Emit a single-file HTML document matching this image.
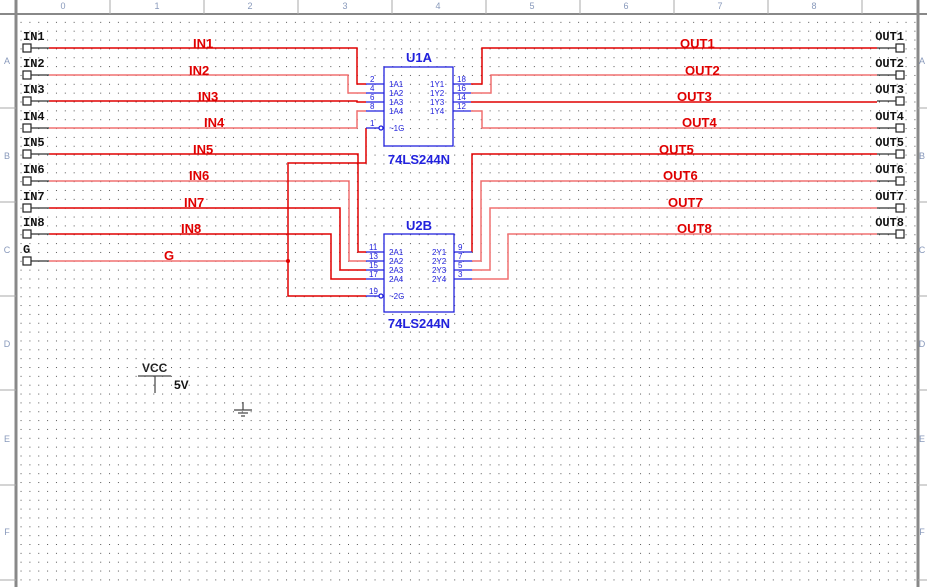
<!DOCTYPE html>
<html><head><meta charset="utf-8"><style>
html,body{margin:0;padding:0;background:#fff;}
svg{display:block;}
.nl{font-family:"Liberation Sans",sans-serif;font-weight:bold;font-size:13px;fill:#e00000;}
.pl{font-family:"Liberation Mono",monospace;font-size:12px;fill:#111;font-weight:bold;}
.pn{font-family:"Liberation Sans",sans-serif;font-size:8px;fill:#2222dd;}
.ref{font-family:"Liberation Sans",sans-serif;font-weight:bold;font-size:13px;fill:#2222dd;}
.rl{font-family:"Liberation Sans",sans-serif;font-size:9px;fill:#8899bb;}
</style></head><body>
<svg width="927" height="587" viewBox="0 0 927 587" xmlns="http://www.w3.org/2000/svg">
<defs>
<pattern id="dots" x="2.85" y="4.15" width="8.85" height="8.85" patternUnits="userSpaceOnUse">
<rect x="0" y="0" width="1" height="1" fill="#555"/>
</pattern>
</defs>
<rect width="927" height="587" fill="#fff"/>
<rect x="18" y="16" width="898" height="571" fill="url(#dots)"/>
<line x1="0" y1="14" x2="927" y2="14" stroke="#888" stroke-width="2"/>
<line x1="16" y1="0" x2="16" y2="587" stroke="#888" stroke-width="3"/>
<line x1="918" y1="0" x2="918" y2="587" stroke="#888" stroke-width="3"/>
<g stroke="#aaa" stroke-width="1">
<line x1="110" y1="0" x2="110" y2="14"/><line x1="204" y1="0" x2="204" y2="14"/><line x1="298" y1="0" x2="298" y2="14"/><line x1="392" y1="0" x2="392" y2="14"/><line x1="486" y1="0" x2="486" y2="14"/><line x1="580" y1="0" x2="580" y2="14"/><line x1="674" y1="0" x2="674" y2="14"/><line x1="768" y1="0" x2="768" y2="14"/><line x1="862" y1="0" x2="862" y2="14"/>
<line x1="0" y1="108" x2="16" y2="108"/><line x1="0" y1="202" x2="16" y2="202"/><line x1="0" y1="296" x2="16" y2="296"/><line x1="0" y1="390" x2="16" y2="390"/><line x1="0" y1="485" x2="16" y2="485"/><line x1="0" y1="580" x2="16" y2="580"/>
<line x1="918" y1="108" x2="927" y2="108"/><line x1="918" y1="202" x2="927" y2="202"/><line x1="918" y1="296" x2="927" y2="296"/><line x1="918" y1="390" x2="927" y2="390"/><line x1="918" y1="485" x2="927" y2="485"/><line x1="918" y1="580" x2="927" y2="580"/>
</g>
<g class="rl" text-anchor="middle">
<text x="63" y="9">0</text><text x="157" y="9">1</text><text x="250" y="9">2</text><text x="345" y="9">3</text><text x="438" y="9">4</text><text x="532" y="9">5</text><text x="626" y="9">6</text><text x="720" y="9">7</text><text x="814" y="9">8</text>
<text x="7" y="64">A</text><text x="7" y="159">B</text><text x="7" y="253">C</text><text x="7" y="347">D</text><text x="7" y="442">E</text><text x="7" y="535">F</text>
<text x="922" y="64">A</text><text x="922" y="159">B</text><text x="922" y="253">C</text><text x="922" y="347">D</text><text x="922" y="442">E</text><text x="922" y="535">F</text>
</g>

<g stroke="#222" stroke-width="1.2" fill="#fff">
<rect x="23" y="44" width="8" height="8"/><rect x="23" y="71" width="8" height="8"/><rect x="23" y="97" width="8" height="8"/><rect x="23" y="124" width="8" height="8"/><rect x="23" y="150" width="8" height="8"/><rect x="23" y="177" width="8" height="8"/><rect x="23" y="204" width="8" height="8"/><rect x="23" y="230" width="8" height="8"/><rect x="23" y="257" width="8" height="8"/>
<rect x="896" y="44" width="8" height="8"/><rect x="896" y="71" width="8" height="8"/><rect x="896" y="97" width="8" height="8"/><rect x="896" y="124" width="8" height="8"/><rect x="896" y="150" width="8" height="8"/><rect x="896" y="177" width="8" height="8"/><rect x="896" y="204" width="8" height="8"/><rect x="896" y="230" width="8" height="8"/>
</g>
<g stroke="#333" stroke-width="1.2">
<line x1="31" y1="48" x2="49" y2="48"/><line x1="31" y1="75" x2="49" y2="75"/><line x1="31" y1="101" x2="49" y2="101"/><line x1="31" y1="128" x2="49" y2="128"/><line x1="31" y1="154" x2="49" y2="154"/><line x1="31" y1="181" x2="49" y2="181"/><line x1="31" y1="208" x2="49" y2="208"/><line x1="31" y1="234" x2="49" y2="234"/><line x1="31" y1="261" x2="49" y2="261"/>
<line x1="877" y1="48" x2="896" y2="48"/><line x1="877" y1="75" x2="896" y2="75"/><line x1="877" y1="101" x2="896" y2="101"/><line x1="877" y1="128" x2="896" y2="128"/><line x1="877" y1="154" x2="896" y2="154"/><line x1="877" y1="181" x2="896" y2="181"/><line x1="877" y1="208" x2="896" y2="208"/><line x1="877" y1="234" x2="896" y2="234"/>
</g>
<g class="pl">
<text x="23" y="40">IN1</text><text x="23" y="67">IN2</text><text x="23" y="93">IN3</text><text x="23" y="120">IN4</text><text x="23" y="146">IN5</text><text x="23" y="173">IN6</text><text x="23" y="200">IN7</text><text x="23" y="226">IN8</text><text x="23" y="253">G</text>
</g>
<g class="pl" text-anchor="end">
<text x="904" y="40">OUT1</text><text x="904" y="67">OUT2</text><text x="904" y="93">OUT3</text><text x="904" y="120">OUT4</text><text x="904" y="146">OUT5</text><text x="904" y="173">OUT6</text><text x="904" y="200">OUT7</text><text x="904" y="226">OUT8</text>
</g>

<g fill="none" stroke-width="1.5">
<polyline stroke="#e00000" points="49,48 357,48 357,84 366,84"/>
<polyline stroke="#f07070" points="49,75 348,75 348,93 366,93"/>
<polyline stroke="#e00000" points="49,101 357,101 357,102 366,102"/>
<polyline stroke="#f07070" points="49,128 357,128 357,111 366,111"/>
<polyline stroke="#e00000" points="49,154 358,154 358,252 366,252"/>
<polyline stroke="#f07070" points="49,181 349,181 349,261 366,261"/>
<polyline stroke="#e00000" points="49,208 340,208 340,270 366,270"/>
<polyline stroke="#e00000" points="49,234 331,234 331,279 366,279"/>
<polyline stroke="#f07070" points="49,261 288,261"/>
<polyline stroke="#e00000" points="366,128 366,163 288,163 288,296 366,296"/>
<polyline stroke="#e00000" points="471,84 482,84 482,48 877,48"/>
<polyline stroke="#f07070" points="471,93 491,93 491,75 877,75"/>
<polyline stroke="#e00000" points="471,102 877,102"/>
<polyline stroke="#f07070" points="471,111 482,111 482,128 877,128"/>
<polyline stroke="#e00000" points="472,252 472,154 877,154"/>
<polyline stroke="#f07070" points="472,261 481,261 481,181 877,181"/>
<polyline stroke="#f07070" points="472,270 490,270 490,208 877,208"/>
<polyline stroke="#f07070" points="472,279 508,279 508,234 877,234"/>
</g>
<circle cx="288" cy="261" r="2" fill="#e00000"/>

<g class="nl">
<text x="193" y="48">IN1</text><text x="189" y="75">IN2</text><text x="198" y="101">IN3</text><text x="204" y="127">IN4</text><text x="193" y="154">IN5</text><text x="189" y="180">IN6</text><text x="184" y="207">IN7</text><text x="181" y="233">IN8</text><text x="164" y="260">G</text>
<text x="680" y="48">OUT1</text><text x="685" y="75">OUT2</text><text x="677" y="101">OUT3</text><text x="682" y="127">OUT4</text><text x="659" y="154">OUT5</text><text x="663" y="180">OUT6</text><text x="668" y="207">OUT7</text><text x="677" y="233">OUT8</text>
</g>

<g stroke="#2222dd" stroke-width="1.3" fill="none">
<rect x="384" y="67" width="69" height="79"/>
<line x1="366" y1="84" x2="384" y2="84"/><line x1="366" y1="93" x2="384" y2="93"/><line x1="366" y1="102" x2="384" y2="102"/><line x1="366" y1="111" x2="384" y2="111"/>
<line x1="366" y1="128" x2="379" y2="128"/><circle cx="381" cy="128" r="2"/>
<line x1="453" y1="84" x2="471" y2="84"/><line x1="453" y1="93" x2="471" y2="93"/><line x1="453" y1="102" x2="471" y2="102"/><line x1="453" y1="111" x2="471" y2="111"/>
<rect x="384" y="234" width="70" height="78"/>
<line x1="366" y1="252" x2="384" y2="252"/><line x1="366" y1="261" x2="384" y2="261"/><line x1="366" y1="270" x2="384" y2="270"/><line x1="366" y1="279" x2="384" y2="279"/>
<line x1="366" y1="296" x2="379" y2="296"/><circle cx="381" cy="296" r="2"/>
<line x1="454" y1="252" x2="472" y2="252"/><line x1="454" y1="261" x2="472" y2="261"/><line x1="454" y1="270" x2="472" y2="270"/><line x1="454" y1="279" x2="472" y2="279"/>
</g>
<g class="ref" text-anchor="middle">
<text x="419" y="62">U1A</text><text x="419" y="164">74LS244N</text>
<text x="419" y="230">U2B</text><text x="419" y="328">74LS244N</text>
</g>
<g class="pn">
<text x="370" y="82">2</text><text x="370" y="91">4</text><text x="370" y="100">6</text><text x="370" y="109">8</text><text x="370" y="126">1</text>
<text x="389" y="87">1A1</text><text x="389" y="96">1A2</text><text x="389" y="105">1A3</text><text x="389" y="114">1A4</text><text x="389" y="131">~1G</text>
<text x="430" y="87">1Y1</text><text x="430" y="96">1Y2</text><text x="430" y="105">1Y3</text><text x="430" y="114">1Y4</text>
<text x="457" y="82">18</text><text x="457" y="91">16</text><text x="457" y="100">14</text><text x="457" y="109">12</text>
<text x="369" y="250">11</text><text x="369" y="259">13</text><text x="369" y="268">15</text><text x="369" y="277">17</text><text x="369" y="294">19</text>
<text x="389" y="255">2A1</text><text x="389" y="264">2A2</text><text x="389" y="273">2A3</text><text x="389" y="282">2A4</text><text x="389" y="299">~2G</text>
<text x="432" y="255">2Y1</text><text x="432" y="264">2Y2</text><text x="432" y="273">2Y3</text><text x="432" y="282">2Y4</text>
<text x="458" y="250">9</text><text x="458" y="259">7</text><text x="458" y="268">5</text><text x="458" y="277">3</text>
</g>

<text x="142" y="372" style="font-family:'Liberation Sans',sans-serif;font-size:12px;font-weight:bold;fill:#222">VCC</text>
<line x1="138" y1="376" x2="171" y2="376" stroke="#444" stroke-width="1.2"/>
<line x1="155" y1="376" x2="155" y2="393" stroke="#444" stroke-width="1.2"/>
<text x="174" y="389" style="font-family:'Liberation Sans',sans-serif;font-size:12px;font-weight:bold;fill:#111">5V</text>
<g stroke="#444" stroke-width="1.2">
<line x1="243" y1="402" x2="243" y2="410"/>
<line x1="234" y1="410" x2="252" y2="410"/>
<line x1="238" y1="413" x2="248" y2="413"/>
<line x1="241" y1="416" x2="245" y2="416"/>
</g>
</svg>
</body></html>
